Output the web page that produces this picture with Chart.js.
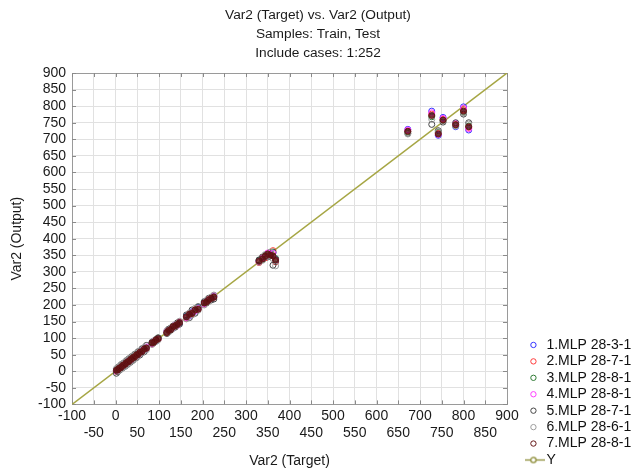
<!DOCTYPE html>
<html>
<head>
<meta charset="utf-8">
<script src="https://cdn.jsdelivr.net/npm/chart.js@4.4.1/dist/chart.umd.min.js"></script>
<style>
  html, body { margin: 0; padding: 0; background: #fff; }
</style>
</head>
<body>
<canvas id="fitChart" width="632" height="473"></canvas>
<script>
// Target values (same cases for every network)
const target = [
  2, 5, 7, 10, 13, 16, 19, 22, 25, 28, 31, 34, 37, 40, 44, 48, 52, 56, 61, 66, 71,
  84, 88, 93, 98,
  118, 122, 127, 132, 137, 142, 147,
  163, 170, 176, 183, 190,
  204, 209, 214, 220, 226,
  330, 338, 344, 350, 356, 362, 368,
  672, 727, 742, 753, 782, 800, 812
];

// Outputs of each network
const mlp1 = [
  4, 3, 9, 8, 15, 14, 22, 20, 27, 26, 33, 32, 39, 38, 46, 47, 54, 55, 63, 64, 70,
  86, 90, 91, 99,
  120, 125, 129, 130, 139, 140, 145,
  166, 168, 180, 181, 192,
  207, 212, 216, 219, 225,
  333, 340, 346, 352, 355, 358, 338,
  730, 785, 712, 766, 738, 798, 728
];
const mlp2 = [
  0, 7, 5, 12, 11, 18, 17, 24, 23, 30, 29, 36, 35, 42, 42, 50, 50, 58, 59, 68, 69,
  82, 87, 95, 96,
  116, 124, 125, 135, 134, 144, 149,
  160, 174, 173, 186, 188,
  202, 207, 217, 222, 223,
  328, 343, 342, 355, 350, 364, 330,
  725, 776, 718, 760, 745, 789, 736
];
const mlp3 = [
  3, 6, 8, 9, 14, 17, 20, 21, 26, 29, 30, 35, 38, 41, 45, 49, 53, 57, 60, 67, 72,
  85, 89, 92, 100,
  119, 120, 130, 133, 136, 143, 146,
  165, 171, 178, 184, 191,
  205, 210, 213, 221, 227,
  335, 337, 348, 349, 358, 360, 340,
  722, 768, 721, 757, 742, 782, 740
];
const mlp4 = [
  1, 4, 6, 11, 12, 15, 18, 23, 24, 27, 32, 33, 36, 39, 43, 46, 51, 54, 62, 65, 73,
  83, 91, 94, 97,
  121, 123, 128, 131, 140, 138, 148,
  162, 169, 177, 182, 189,
  203, 211, 215, 218, 228,
  331, 341, 345, 357, 353, 356, 335,
  728, 780, 715, 763, 748, 794, 732
];
const mlp5 = [
  -6, -1, 13, 4, 20, 10, 25, 15, 32, 21, 38, 27, 44, 33, 51, 41, 59, 49, 68, 59, 78,
  88, 86, 96, 101,
  114, 127, 124, 136, 133, 146, 142,
  170, 162, 185, 175, 195,
  210, 206, 220, 215, 218,
  336, 345, 350, 345, 348, 320, 332,
  718, 745, 726, 752, 750, 776, 750
];
const mlp6 = [
  8, 11, 1, 16, 7, 22, 13, 28, 19, 34, 25, 40, 31, 46, 38, 54, 46, 62, 55, 72, 65,
  81, 92, 90, 95,
  122, 118, 131, 129, 141, 139, 151,
  158, 176, 170, 190, 184,
  200, 214, 210, 224, 230,
  329, 335, 352, 347, 360, 340, 318,
  716, 760, 723, 755, 740, 780, 746
];
const mlp7 = [
  3, 4, 8, 10, 12, 17, 19, 21, 26, 28, 30, 35, 37, 41, 43, 49, 51, 57, 60, 67, 70,
  85, 88, 94, 98,
  117, 123, 126, 134, 137, 141, 147,
  164, 172, 175, 185, 187,
  206, 209, 215, 220, 224,
  332, 339, 347, 354, 351, 348, 336,
  724, 772, 716, 758, 744, 785, 738
];

const seriesNames = ["1.MLP 28-3-1", "2.MLP 28-7-1", "3.MLP 28-8-1", "4.MLP 28-8-1",
  "5.MLP 28-7-1", "6.MLP 28-6-1", "7.MLP 28-8-1"];
const seriesOutputs = [mlp1, mlp2, mlp3, mlp4, mlp5, mlp6, mlp7];
const seriesColors = ["#3434ff", "#ff3a3a", "#2f7a34", "#ff3cff", "#444444", "#9c9c9c", "#641616"];
const seriesFills = ["rgba(0,0,0,0)", "rgba(0,0,0,0)", "rgba(0,0,0,0)", "rgba(0,0,0,0)",
  "rgba(0,0,0,0)", "rgba(0,0,0,0)", "rgba(92,10,14,0.72)"];

// Y = X reference line ends
const lineX = [-100, 900];
const lineY = [-100, 900];

const FONT = '"Liberation Sans", Arial, sans-serif';
Chart.defaults.font.family = FONT;
Chart.defaults.color = "#1a1a1a";

// Legend marker for the Y line: short line with an open circle
const yMarker = document.createElement("canvas");
yMarker.width = 24;
yMarker.height = 9;
(function () {
  const c = yMarker.getContext("2d");
  c.strokeStyle = "#8c8c36";
  c.lineWidth = 1.3;
  c.beginPath();
  c.moveTo(0, 4.5);
  c.lineTo(24, 4.5);
  c.stroke();
  c.fillStyle = "#fff";
  c.beginPath();
  c.arc(12, 4.5, 2.6, 0, Math.PI * 2);
  c.fill();
  c.stroke();
})();

// Small tick marks drawn inside the plot frame
const innerTicks = {
  id: "innerTicks",
  beforeDatasetsDraw(chart) {
    const { ctx, chartArea: a, scales } = chart;
    const sx = scales.x, sy = scales.y;
    ctx.save();
    ctx.strokeStyle = "#8a8a8a";
    ctx.lineWidth = 1;
    ctx.beginPath();
    sx.ticks.forEach((t) => {
      const p = Math.round(sx.getPixelForValue(t.value)) + 0.5;
      ctx.moveTo(p, a.bottom); ctx.lineTo(p, a.bottom - 4);
      ctx.moveTo(p, a.top); ctx.lineTo(p, a.top + 4);
    });
    sy.ticks.forEach((t) => {
      const p = Math.round(sy.getPixelForValue(t.value)) + 0.5;
      ctx.moveTo(a.left, p); ctx.lineTo(a.left + 4, p);
      ctx.moveTo(a.right, p); ctx.lineTo(a.right - 4, p);
    });
    ctx.stroke();
    ctx.restore();
  }
};

const datasets = seriesNames.map((name, i) => ({
  label: name,
  data: target.map((t, k) => ({ x: t, y: seriesOutputs[i][k] })),
  borderColor: seriesColors[i],
  backgroundColor: seriesFills[i],
  borderWidth: 1,
  pointRadius: 3,
  pointStyle: "circle",
  order: 7 - i
}));
datasets.push({
  label: "Y",
  data: lineX.map((x, k) => ({ x: x, y: lineY[k] })),
  showLine: true,
  borderColor: "#a6a644",
  backgroundColor: "#a6a644",
  borderWidth: 1.5,
  pointRadius: 0,
  order: 20
});

const frameColor = (c) => (c.tick && c.tick.value === 900 ? "#9a9a9a" : "#e1e1e1");

new Chart(document.getElementById("fitChart"), {
  type: "scatter",
  data: { datasets },
  plugins: [innerTicks],
  options: {
    responsive: false,
    animation: false,
    layout: { padding: { left: 4, top: 0, right: 0, bottom: 3.6 } },
    plugins: {
      tooltip: { enabled: false },
      title: {
        display: true,
        text: ["Var2 (Target) vs. Var2 (Output)", "Samples: Train, Test", "Include cases: 1:252"],
        font: { size: 13.7, weight: "normal", lineHeight: 1.39 },
        color: "#1a1a1a",
        padding: { top: 5.5, bottom: 10.4 }
      },
      legend: {
        position: "right",
        align: "end",
        maxWidth: 107,
        labels: {
          usePointStyle: true,
          boxWidth: 12,
          boxHeight: 3.8,
          padding: 2.43,
          color: "#111",
          font: { size: 14 },
          sort: (a, b) => a.datasetIndex - b.datasetIndex,
          generateLabels(chart) {
            const items = Chart.defaults.plugins.legend.labels.generateLabels(chart);
            items.forEach((it) => {
              it.fillStyle = "rgba(0,0,0,0)";
              if (it.text === "Y") it.pointStyle = yMarker;
            });
            return items;
          }
        }
      }
    },
    scales: {
      x: {
        type: "linear",
        min: -100,
        max: 900,
        grid: { color: frameColor, drawTicks: false },
        border: { color: "#9a9a9a" },
        ticks: {
          stepSize: 50,
          autoSkip: false,
          maxRotation: 0,
          minRotation: 0,
          padding: 3.6,
          color: "#1a1a1a",
          font: { size: 14 },
          callback: (v) => (v % 100 === 0 ? String(v) : ["", String(v)])
        },
        title: {
          display: true,
          text: "Var2 (Target)",
          color: "#1a1a1a",
          font: { size: 14 },
          padding: { top: 7.4, bottom: 0 }
        }
      },
      y: {
        type: "linear",
        min: -100,
        max: 900,
        grid: { color: frameColor, drawTicks: false },
        border: { color: "#9a9a9a" },
        ticks: {
          stepSize: 50,
          autoSkip: false,
          padding: 6,
          color: "#1a1a1a",
          font: { size: 14 }
        },
        title: {
          display: true,
          text: "Var2 (Output)",
          color: "#1a1a1a",
          font: { size: 14 },
          padding: { top: 4.6, bottom: 6.6 }
        }
      },
      // empty spacer between the plot and the legend
      gap: {
        type: "linear",
        position: "right",
        display: true,
        grid: { display: false },
        border: { display: false },
        ticks: { display: false },
        afterFit: (s) => { s.width = 18; }
      }
    }
  }
});
</script>
</body>
</html>
